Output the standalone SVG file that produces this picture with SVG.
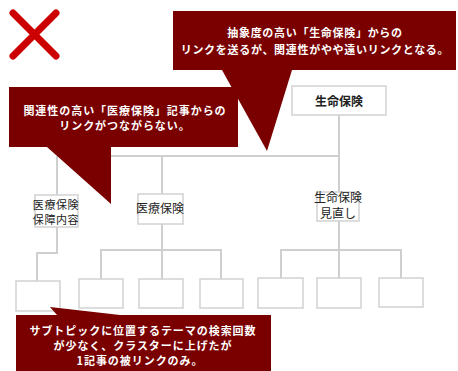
<svg xmlns="http://www.w3.org/2000/svg" width="458" height="371" viewBox="0 0 458 371">
<style>
.ln{fill:none;stroke:#cfcfcf;stroke-width:2}
.bx{fill:#fff;stroke:#d2d2d2;stroke-width:1.5}
.nt{font-family:"Noto Sans CJK JP","Noto Sans",sans-serif;font-size:12px;fill:#222;text-anchor:middle}
.ns{font-size:11px;letter-spacing:0.6px}
.co{fill:#7a0000}
.ct{font-family:"Noto Sans CJK JP","Noto Sans",sans-serif;font-size:11px;letter-spacing:0.95px;font-weight:bold;fill:#fff;text-anchor:middle}
</style>
<rect width="458" height="371" fill="#fff"/>
<g id="xmark"><path d="M13 13L56 56M56 13L13 56" stroke="#cc0000" stroke-width="7" stroke-linecap="round"/></g>
<g id="connectors">
<path class="ln" d="M339 115V192M57 156H339M57 156V195M162 156V194"/>
<path class="ln" d="M57 227V253H37V281"/>
<path class="ln" d="M162 224V279M101 279V250H221V279"/>
<path class="ln" d="M339 221V278M281 278V250H401V278"/>
</g>
<g id="n-seimei"><rect class="bx" x="292" y="86" width="94" height="29"/><text class="nt" x="339" y="105.5" font-weight="bold">生命保険</text></g>
<g id="n-iryo-hosho"><rect class="bx" x="35" y="195" width="43" height="32"/><text class="nt ns"><tspan x="56" y="208.5">医療保険</tspan><tspan x="56" y="223.5">保障内容</tspan></text></g>
<g id="n-iryo"><rect class="bx" x="138" y="194" width="45" height="30"/><text class="nt" x="160" y="213">医療保険</text></g>
<g id="n-seimei-minaoshi"><rect class="bx" x="317" y="192" width="42" height="29"/><text class="nt"><tspan x="338" y="202">生命保険</tspan><tspan x="338" y="218">見直し</tspan></text></g>
<g id="n-leaf0"><rect class="bx" x="16" y="281" width="44" height="30"/></g>
<g id="n-leaf1"><rect class="bx" x="79" y="279" width="44" height="29"/></g>
<g id="n-leaf2"><rect class="bx" x="139" y="279" width="44" height="29"/></g>
<g id="n-leaf3"><rect class="bx" x="200" y="279" width="43" height="29"/></g>
<g id="n-leaf4"><rect class="bx" x="258" y="278" width="45" height="30"/></g>
<g id="n-leaf5"><rect class="bx" x="317" y="278" width="44" height="30"/></g>
<g id="n-leaf6"><rect class="bx" x="379" y="278" width="44" height="29"/></g>
<g id="callout-top"><path class="co" d="M173 11H456V70H292L267 151L222 70H173Z"/><text class="ct" style="letter-spacing:0.7px"><tspan x="315" y="37">抽象度の高い「生命保険」からの</tspan><tspan x="315" y="54">リンクを送るが、関連性がやや遠いリンクとなる。</tspan></text></g>
<g id="callout-left"><path class="co" d="M9 87H238V147H111V204L47 147H9Z"/><text class="ct"><tspan x="125" y="115">関連性の高い「医療保険」記事からの</tspan><tspan x="125" y="130">リンクがつながらない。</tspan></text></g>
<g id="callout-bottom"><path class="co" d="M16 315H57L50 307L120 315H271V371H16Z"/><text class="ct"><tspan x="143" y="335">サブトピックに位置するテーマの検索回数</tspan><tspan x="143" y="350">が少なく、クラスターに上げたが</tspan><tspan x="140" y="365">1記事の被リンクのみ。</tspan></text></g>
</svg>
